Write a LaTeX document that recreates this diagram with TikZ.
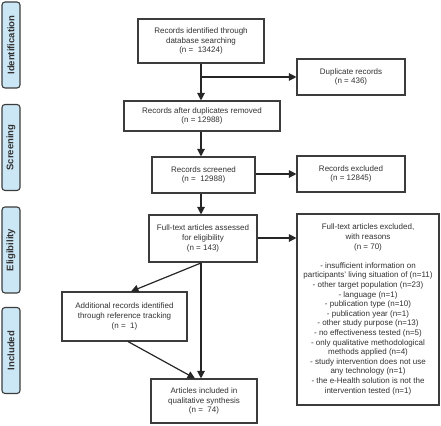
\documentclass[tikz,border=0pt]{standalone}
\usepackage{fontspec}
\setmainfont{Liberation Sans}
\usetikzlibrary{arrows.meta,calc}
\definecolor{lblue}{RGB}{203,230,245}
\definecolor{lineg}{RGB}{60,60,60}
\definecolor{txtg}{RGB}{50,50,50}
\tikzset{
  phase/.style={draw=lineg, line width=1.1pt, fill=lblue, rounded corners=3pt, rotate=90,
    minimum width=86pt, minimum height=18pt, inner sep=0pt,
    font=\fontsize{9.5}{11}\selectfont\bfseries, text=txtg},
  box/.style={draw=lineg, line width=1.1pt, fill=white, align=center, inner sep=1pt,
    font=\fontsize{8}{9.6}\selectfont, text=txtg},
  arr/.style={draw=black!85, line width=1.2pt, -{Triangle[length=7.5pt,width=7.5pt]}},
}
\begin{document}
\begin{tikzpicture}[x=1pt,y=-1pt]
\useasboundingbox (0,0) rectangle (441,425);
% phase labels
\node[phase] (pid) at (11,45) {Identification};
\node[phase] (psc) at (11,147.5) {Screening};
\node[phase] (pel) at (11,250) {Eligibility};
\node[phase] (pin) at (11,350.5) {Included};
% boxes
\node[box, minimum width=126pt, minimum height=44pt] (id) at (201,41)
  {Records identified through\\database searching\\(n =\ \ 13424)};
\node[box, minimum width=108pt, minimum height=36pt] (dup) at (351,77)
  {Duplicate records\\(n = 436)};
\node[box, minimum width=156pt, minimum height=30pt] (after) at (202,116)
  {Records after duplicates removed\\(n = 12988)};
\node[box, minimum width=103pt, minimum height=36pt] (scr) at (203.5,175)
  {Records screened\\(n =\ \ 12988)};
\node[box, minimum width=108pt, minimum height=36pt] (exc) at (351,174)
  {Records excluded\\(n = 12845)};
\node[box, minimum width=108pt, minimum height=47pt] (ass) at (203,238.5)
  {Full-text articles assessed\\for eligibility\\(n = 143)};
\node[box, minimum width=142pt, minimum height=191pt] (ftx) at (368,309.5)
  {Full-text articles excluded,\\with reasons\\(n = 70)\\[9.6pt]
   - insufficient information on\\participants’ living situation of (n=11)\\
   - other target population (n=23)\\- language (n=1)\\- publication type (n=10)\\
   - publication year (n=1)\\- other study purpose (n=13)\\- no effectiveness tested (n=5)\\
   - only qualitative methodological\\methods applied (n=4)\\
   - study intervention does not use\\any technology (n=1)\\
   - the e-Health solution is not the\\intervention tested (n=1)};
\node[box, minimum width=125pt, minimum height=49pt] (add) at (124.5,316.5)
  {Additional records identified\\through reference tracking\\(n =\ \ 1)};
\node[box, minimum width=106pt, minimum height=44pt] (inc) at (204,401)
  {Articles included in\\qualitative synthesis\\(n =\ \ 74)};
% coordinates
\coordinate (b1) at (201,77);
\coordinate (b2) at (201,263);
\coordinate (addtop) at ($(add.north)+(6.5,0)$);
\coordinate (addbot) at ($(add.south)+(3.5,0)$);
\coordinate (inctip) at ($(inc.north)+(-9,0)$);
% connectors
\draw[arr] (id.south -| b1) -- (after.north -| b1);
\draw[arr] (b1) -- (dup.west |- b1);
\draw[arr] (after.south -| b1) -- (scr.north -| b1);
\draw[arr] (scr.east |- exc.west) -- (exc.west);
\draw[arr] (scr.south -| b1) -- (ass.north -| b1);
\draw[arr] (ass.east |- 0,238) -- (ftx.west |- 0,238);
\draw[arr] (ass.south -| b1) -- (inc.north -| b1);
\draw[arr] (b2) -- (addtop);
\draw[arr] (addbot) -- (inctip);
\end{tikzpicture}
\end{document}
